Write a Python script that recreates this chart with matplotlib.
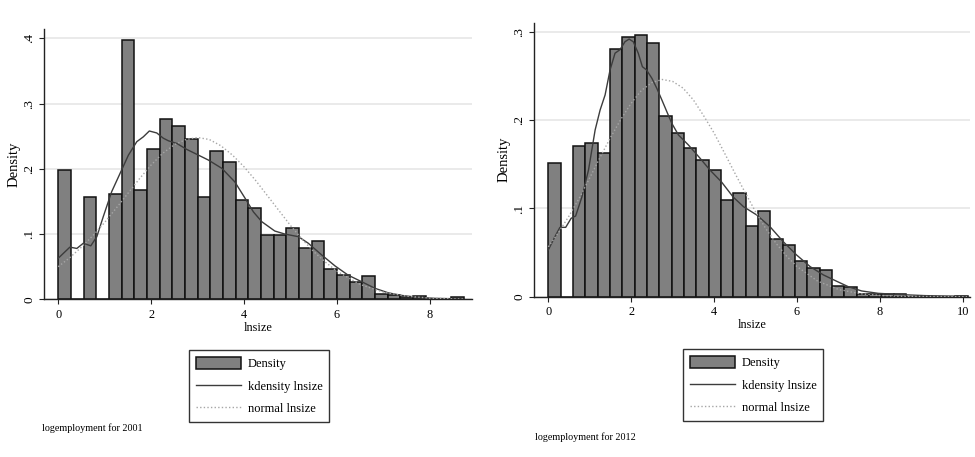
import matplotlib
matplotlib.use("Agg")
import matplotlib.pyplot as plt
import numpy as np

# 2001 histogram (density), bins start at 0
bin_width_2001 = 0.2726
dens_2001 = [0.198, 0.0, 0.157, 0.0, 0.162, 0.398, 0.167, 0.231, 0.276, 0.266,
             0.246, 0.157, 0.228, 0.210, 0.152, 0.140, 0.098, 0.099, 0.109, 0.079,
             0.090, 0.047, 0.038, 0.026, 0.036, 0.0085, 0.006, 0.004, 0.0046, 0.0,
             0.0, 0.003]
kd_x_2001 = [0.0, 0.25, 0.40, 0.54, 0.70, 0.83, 0.97, 1.15, 1.33, 1.51, 1.69, 1.83,
             1.96, 2.12, 2.26, 2.37, 2.55, 2.76, 2.96, 3.23, 3.52, 3.80, 4.02, 4.20,
             4.38, 4.66, 4.88, 5.17, 5.38, 5.67, 5.96, 6.24, 6.53, 6.82, 7.10, 7.39,
             7.75, 8.11, 8.47, 8.72]
kd_y_2001 = [0.063, 0.080, 0.078, 0.086, 0.082, 0.096, 0.127, 0.165, 0.193, 0.221,
             0.2416, 0.249, 0.258, 0.255, 0.247, 0.243, 0.239, 0.230, 0.223, 0.2135,
             0.2008, 0.180, 0.155, 0.134, 0.119, 0.1047, 0.100, 0.096, 0.086, 0.068,
             0.051, 0.037, 0.027, 0.0168, 0.010, 0.006, 0.003, 0.0015, 0.001, 0.0005]
nm_x_2001 = [0.0, 0.25, 0.5, 0.75, 1.0, 1.25, 1.5, 1.75, 2.0, 2.25, 2.5, 2.75, 3.0,
             3.25, 3.5, 3.75, 4.0, 4.25, 4.5, 4.75, 5.0, 5.25, 5.5, 5.75, 6.0, 6.5,
             7.0, 7.5, 8.0, 8.5, 8.72]
nm_y_2001 = [0.050, 0.064, 0.080, 0.098, 0.118, 0.140, 0.1625, 0.185, 0.206, 0.224,
             0.237, 0.245, 0.248, 0.245, 0.2354, 0.221, 0.203, 0.182, 0.159, 0.136,
             0.113, 0.092, 0.073, 0.057, 0.043, 0.0227, 0.011, 0.0048, 0.0019, 0.0007,
             0.0005]

# 2012 histogram (density)
bin_width_2012 = 0.2977
dens_2012 = [0.151, 0.0, 0.171, 0.174, 0.1625, 0.281, 0.294, 0.297, 0.287, 0.205,
             0.185, 0.169, 0.155, 0.144, 0.110, 0.118, 0.080, 0.097, 0.065, 0.059,
             0.040, 0.033, 0.030, 0.0122, 0.0113, 0.003, 0.003, 0.0025, 0.0025, 0.0,
             0.0, 0.0, 0.0, 0.0006]
kd_x_2012 = [0.0, 0.16, 0.28, 0.42, 0.55, 0.66, 0.81, 0.97, 1.13, 1.25, 1.37, 1.49,
             1.61, 1.73, 1.85, 1.95, 2.05, 2.17, 2.27, 2.37, 2.50, 2.62, 2.74, 2.86,
             2.98, 3.14, 3.38, 3.66, 3.90, 4.18, 4.46, 4.71, 5.03, 5.35, 5.67, 5.99,
             6.32, 6.64, 6.98, 7.24, 7.56, 7.96, 8.53, 9.09, 10.1]
kd_y_2012 = [0.053, 0.068, 0.0786, 0.0786, 0.0888, 0.0915, 0.113, 0.1436, 0.189,
             0.2116, 0.2286, 0.257, 0.276, 0.280, 0.289, 0.292, 0.289, 0.276, 0.2607,
             0.257, 0.2475, 0.236, 0.223, 0.2097, 0.1965, 0.1833, 0.172, 0.157, 0.1436,
             0.130, 0.113, 0.102, 0.0926, 0.0793, 0.0623, 0.0473, 0.034, 0.0246, 0.017,
             0.0113, 0.0065, 0.0038, 0.0023, 0.0012, 0.0004]
nm_x_2012 = [0.0, 0.25, 0.5, 0.75, 1.0, 1.25, 1.5, 1.75, 2.0, 2.25, 2.5, 2.75, 3.0,
             3.25, 3.5, 3.75, 4.0, 4.25, 4.5, 4.75, 5.0, 5.25, 5.5, 5.75, 6.0, 6.5,
             7.0, 7.5, 8.0, 8.5, 9.0, 9.5, 10.1]
nm_y_2012 = [0.0565, 0.073, 0.0915, 0.112, 0.1347, 0.158, 0.1803, 0.201, 0.2193,
             0.234, 0.2427, 0.2462, 0.2440, 0.2365, 0.2231, 0.205, 0.1855, 0.163,
             0.1402, 0.118, 0.0963, 0.077, 0.0602, 0.046, 0.0342, 0.0176, 0.0083,
             0.0035, 0.0014, 0.0005, 0.0002, 0.0001, 0.0]

serif = ["Liberation Serif", "DejaVu Serif"]
plt.rcParams["font.family"] = serif

fig = plt.figure(figsize=(9.75, 4.57), dpi=100)

panels = [
    dict(rect=[0.0454, 0.345, 0.4384, 0.5908], xlim=(-0.301, 8.898), ylim=(0, 0.4138),
         xt=[0, 2, 4, 6, 8], yt=[0, 0.1, 0.2, 0.3, 0.4], w=bin_width_2001, d=dens_2001,
         kx=kd_x_2001, ky=kd_y_2001, nx=nm_x_2001, ny=nm_y_2001,
         leg=(189 / 975, 1 - 350 / 457), cap=(42 / 975, 1 - 428 / 457),
         caption="logemployment for 2001"),
    dict(rect=[0.548, 0.3508, 0.4469, 0.5996], xlim=(-0.338, 10.176), ylim=(0, 0.3106),
         xt=[0, 2, 4, 6, 8, 10], yt=[0, 0.1, 0.2, 0.3], w=bin_width_2012, d=dens_2012,
         kx=kd_x_2012, ky=kd_y_2012, nx=nm_x_2012, ny=nm_y_2012,
         leg=(683 / 975, 1 - 349 / 457), cap=(535 / 975, 1 - 436.7 / 457),
         caption="logemployment for 2012"),
]

for p in panels:
    ax = fig.add_axes(p["rect"])
    edges = np.arange(len(p["d"])) * p["w"]
    bars = ax.bar(edges, p["d"], width=p["w"], align="edge", color="#808080",
                  edgecolor="#111111", linewidth=1.1, zorder=2)
    kd, = ax.plot(p["kx"], p["ky"], color="#3c3c3c", linewidth=1.0, zorder=3)
    nm, = ax.plot(p["nx"], p["ny"], color="#a6a6a6", linewidth=1.0,
                  linestyle=(0, (1, 1.6)), zorder=3)

    ax.set_xlim(*p["xlim"])
    ax.set_ylim(*p["ylim"])
    ax.set_xticks(p["xt"])
    ax.set_xticklabels([str(v) for v in p["xt"]], fontsize=8.8)
    ax.set_yticks(p["yt"])
    ax.set_yticklabels(["0"] + ["." + str(int(round(v * 10))) for v in p["yt"][1:]],
                       rotation=90, va="center", fontsize=9.5)
    ax.tick_params(direction="out", length=3.6, width=0.8, color="#222222", pad=3)
    for s in ["top", "right"]:
        ax.spines[s].set_visible(False)
    for s in ["left", "bottom"]:
        ax.spines[s].set_linewidth(1.0)
        ax.spines[s].set_color("#222222")
    ax.yaxis.grid(True, color="#e6e6e6", linewidth=1.2, zorder=0)
    ax.set_axisbelow(True)
    ax.set_xlabel("lnsize", fontsize=8.8, labelpad=1)
    ax.set_ylabel("Density", fontsize=10.5, labelpad=2)

    leg = fig.legend([bars, kd, nm], ["Density", "kdensity lnsize", "normal lnsize"],
                     loc="upper left", bbox_to_anchor=p["leg"],
                     bbox_transform=fig.transFigure, borderaxespad=0, fancybox=False,
                     frameon=True, fontsize=9.0, handlelength=3.6, handleheight=1.15,
                     handletextpad=0.55, labelspacing=0.72, borderpad=0.55)
    leg.get_frame().set_edgecolor("black")
    leg.get_frame().set_linewidth(1.0)
    fig.text(p["cap"][0], p["cap"][1], p["caption"], fontsize=7.3, va="center")

fig.savefig("out.png", dpi=100)
